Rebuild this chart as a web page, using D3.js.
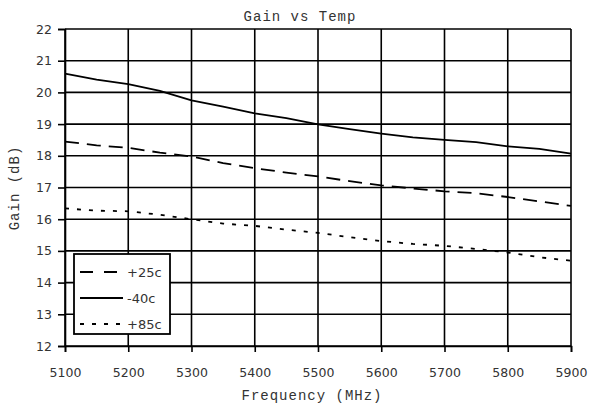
<!DOCTYPE html>
<html>
<head>
<meta charset="utf-8">
<script src="https://cdn.jsdelivr.net/npm/d3@7"></script>
<style>
  body { margin: 0; background: #fff; }
  .tick text { font-family: "DejaVu Sans", sans-serif; font-size: 12.5px; fill: #333; }
  .ttl { font-family: "Liberation Mono", "Courier New", monospace; font-size: 14px; letter-spacing: 1px; fill: #333; }
</style>
</head>
<body>
<div id="chart"></div>
<script>
// frequency points (MHz)
var freqs = [5100, 5150, 5200, 5250, 5300, 5350, 5400, 5450, 5500, 5550, 5600, 5650, 5700, 5750, 5800, 5850, 5900];
// gain (dB) per temperature
var gainP25 = [18.45, 18.33, 18.25, 18.10, 17.98, 17.77, 17.61, 17.47, 17.35, 17.20, 17.07, 16.97, 16.88, 16.82, 16.70, 16.56, 16.42];
var gainM40 = [20.59, 20.40, 20.26, 20.05, 19.75, 19.55, 19.34, 19.19, 18.99, 18.84, 18.70, 18.58, 18.50, 18.43, 18.30, 18.22, 18.07];
var gainP85 = [16.34, 16.27, 16.25, 16.14, 16.00, 15.86, 15.79, 15.67, 15.57, 15.43, 15.31, 15.22, 15.16, 15.06, 14.95, 14.80, 14.69];
var seriesNames = ["+25c", "-40c", "+85c"];
var xTicks = [5100, 5200, 5300, 5400, 5500, 5600, 5700, 5800, 5900];
var yTicks = [12, 13, 14, 15, 16, 17, 18, 19, 20, 21, 22];

var width = 591, height = 409;
var margin = { left: 65, right: 20, top: 29, bottom: 63 };

var svg = d3.select("#chart").append("svg")
  .attr("width", width).attr("height", height);

var x = d3.scaleLinear().domain([5100, 5900]).range([margin.left, width - margin.right]);
var y = d3.scaleLinear().domain([12, 22]).range([height - margin.bottom, margin.top]);

/// grid
svg.append("g").selectAll("line.h").data(yTicks).enter().append("line")
  .attr("x1", x(5100)).attr("x2", x(5900))
  .attr("y1", function (d) { return y(d); }).attr("y2", function (d) { return y(d); })
  .attr("stroke", "#000").attr("stroke-width", 1.6);
svg.append("g").selectAll("line.v").data(xTicks).enter().append("line")
  .attr("y1", y(12)).attr("y2", y(22))
  .attr("x1", function (d) { return x(d); }).attr("x2", function (d) { return x(d); })
  .attr("stroke", "#000").attr("stroke-width", 1.6);

/// axes
var xAxis = svg.append("g")
  .attr("transform", "translate(0," + y(12) + ")")
  .call(d3.axisBottom(x).tickValues(xTicks).tickSize(6).tickPadding(16).tickFormat(d3.format("d")));
var yAxis = svg.append("g")
  .attr("transform", "translate(" + x(5100) + ",0)")
  .call(d3.axisLeft(y).tickValues(yTicks).tickSize(7).tickPadding(6));
[xAxis, yAxis].forEach(function (a) {
  a.select(".domain").attr("stroke", "#000").attr("stroke-width", 1.6);
  a.selectAll(".tick line").attr("stroke", "#000").attr("stroke-width", 1.6);
});

/// series
var series = [
  { name: seriesNames[0], values: gainP25, dash: "14,8", legendDash: "13,11" },
  { name: seriesNames[1], values: gainM40, dash: null, legendDash: null },
  { name: seriesNames[2], values: gainP85, dash: "4,8", legendDash: "4,8" }
];
var line = d3.line()
  .x(function (d, i) { return x(freqs[i]); })
  .y(function (d) { return y(d); });

series.forEach(function (s) {
  svg.append("path")
    .datum(s.values)
    .attr("d", line)
    .attr("fill", "none")
    .attr("stroke", "#000")
    .attr("stroke-width", 1.8)
    .attr("stroke-dasharray", s.dash);
});

/// legend
var lg = svg.append("g").attr("transform", "translate(74,254)");
lg.append("rect").attr("width", 96).attr("height", 80)
  .attr("fill", "#fff").attr("stroke", "#000").attr("stroke-width", 1.8);
series.forEach(function (s, i) {
  var ly = 18 + i * 26;
  lg.append("line").attr("x1", 6).attr("x2", 49).attr("y1", ly).attr("y2", ly)
    .attr("stroke", "#000").attr("stroke-width", 1.8)
    .attr("stroke-dasharray", s.legendDash);
  lg.append("text").attr("x", 53).attr("y", ly + 5)
    .attr("font-family", "DejaVu Sans, sans-serif").attr("font-size", 13)
    .attr("fill", "#333").text(s.name);
});

/// titles
svg.append("text").attr("class", "ttl").attr("x", 300).attr("y", 21)
  .attr("text-anchor", "middle").text("Gain vs Temp");
svg.append("text").attr("class", "ttl").attr("x", 312).attr("y", 400)
  .attr("text-anchor", "middle").text("Frequency (MHz)");
svg.append("text").attr("class", "ttl")
  .attr("transform", "translate(19,188)rotate(-90)")
  .attr("text-anchor", "middle").text("Gain (dB)");
</script>
</body>
</html>
